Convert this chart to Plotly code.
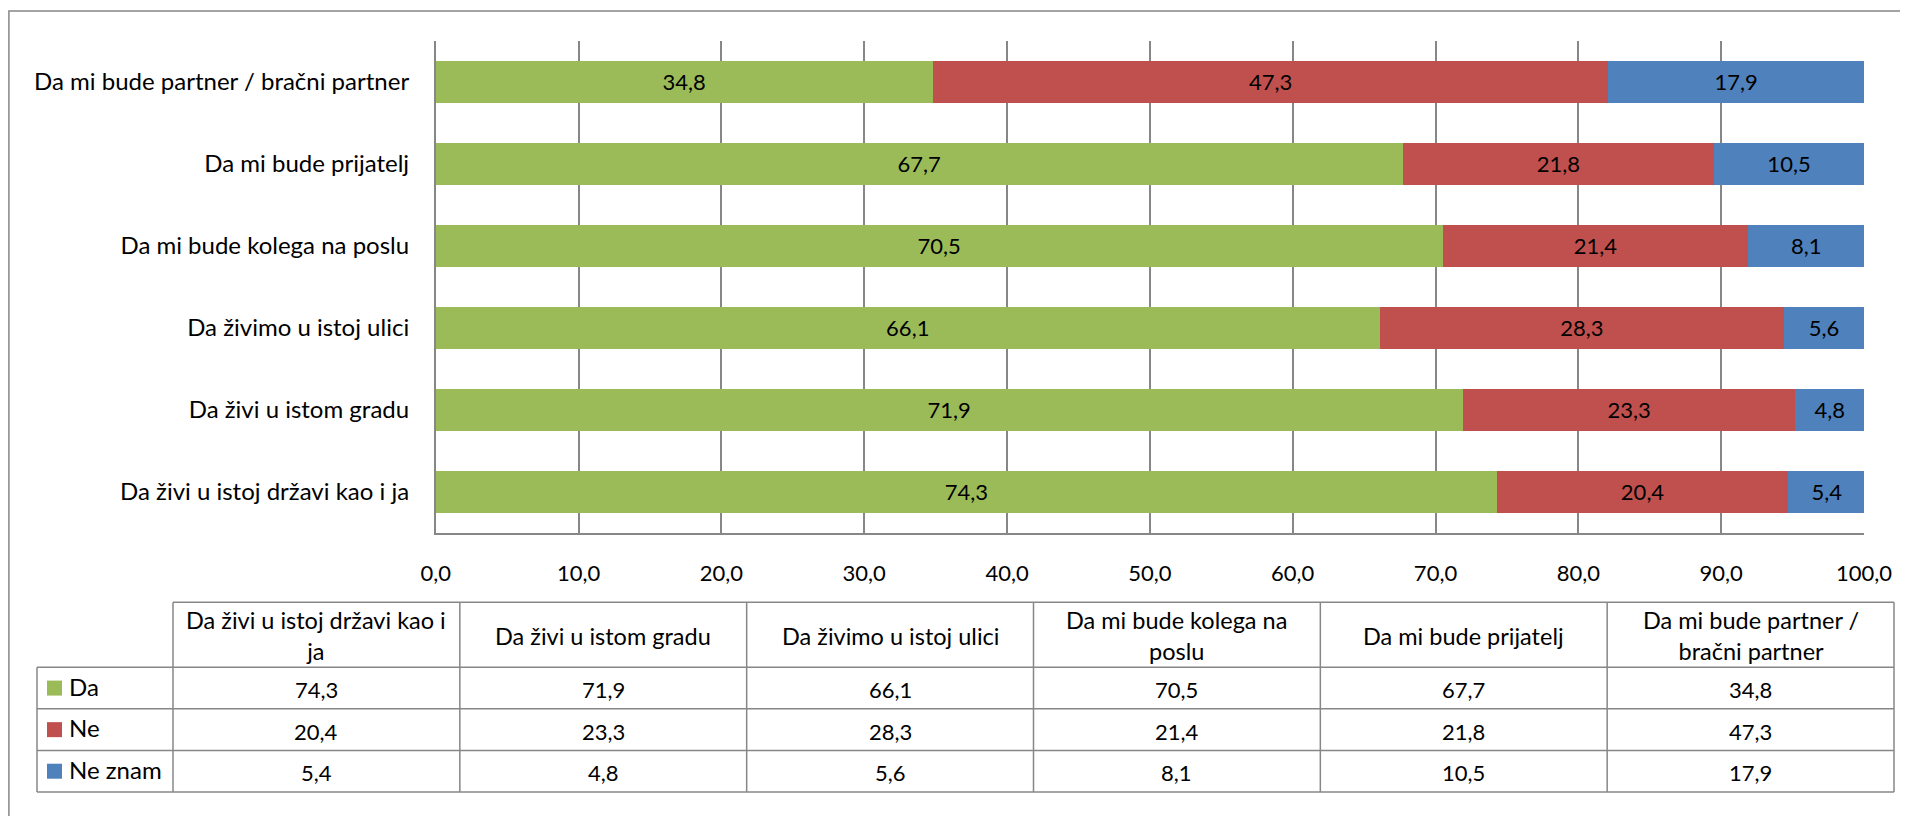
import plotly.graph_objects as go

# ---- data ----
categories = [
    "Da živi u istoj državi kao i ja",
    "Da živi u istom gradu",
    "Da živimo u istoj ulici",
    "Da mi bude kolega na poslu",
    "Da mi bude prijatelj",
    "Da mi bude partner / bračni partner",
]
table_headers = [
    "Da živi u istoj državi kao i<br>ja",
    "Da živi u istom gradu",
    "Da živimo u istoj ulici",
    "Da mi bude kolega na<br>poslu",
    "Da mi bude prijatelj",
    "Da mi bude partner /<br>bračni partner",
]
series_names = ["Da", "Ne", "Ne znam"]
da = [74.3, 71.9, 66.1, 70.5, 67.7, 34.8]
ne = [20.4, 23.3, 28.3, 21.4, 21.8, 47.3]
ne_znam = [5.4, 4.8, 5.6, 8.1, 10.5, 17.9]
colors = ["#9BBB59", "#C0504D", "#4F81BD"]

# page body has an 8px default margin; figure sized to fill the rest of the window
OFF = 8
W, H = 1908 - OFF, 816 - OFF
FONT = "Lato"
GRID = "#878787"
NUM_SIZE = 22
TXT_SIZE = 24

series_vals = [da, ne, ne_znam]

fig = go.Figure()
for name, vals, col in zip(series_names, series_vals, colors):
    fig.add_trace(go.Bar(
        y=categories, x=vals, name=name, orientation="h",
        marker=dict(color=col, line=dict(width=0)),
        texttemplate="%{x:.1f}", textposition="inside",
        insidetextanchor="middle", textangle=0, constraintext="none",
        textfont=dict(family=FONT, size=NUM_SIZE, color="#000000"),
        showlegend=False, hoverinfo="skip",
    ))

def fmt(v):
    return f"{v:.1f}".replace(".", ",")

def px(x):
    # window pixel -> paper fraction
    return (x - OFF) / W

def py(y):
    return 1 - (y - OFF) / H

# ---- data table under the chart (layout geometry, window pixels) ----
leg_l, col0 = 37, 173
tab_r = 1894
ncol = len(categories)
col_w = (tab_r - col0) / ncol
col_edges = [col0 + k * col_w for k in range(ncol + 1)]
head_top, head_bot = 602.3, 667.3
row_h = (792 - head_bot) / 3
row_edges = [head_bot + k * row_h for k in range(len(series_names) + 1)]

shapes = []
annotations = []
line = dict(color=GRID, width=1.5)
shapes.append(dict(type="line", xref="paper", yref="paper",
                   x0=px(col0), x1=px(tab_r), y0=py(head_top), y1=py(head_top), line=line))
for ye in row_edges:
    shapes.append(dict(type="line", xref="paper", yref="paper",
                       x0=px(leg_l), x1=px(tab_r), y0=py(ye), y1=py(ye), line=line))
shapes.append(dict(type="line", xref="paper", yref="paper",
                   x0=px(leg_l), x1=px(leg_l), y0=py(head_bot), y1=py(row_edges[-1]), line=line))
for xe in col_edges:
    shapes.append(dict(type="line", xref="paper", yref="paper",
                       x0=px(xe), x1=px(xe), y0=py(head_top), y1=py(row_edges[-1]), line=line))

for i, htxt in enumerate(table_headers):
    xc = (col_edges[i] + col_edges[i + 1]) / 2
    annotations.append(dict(xref="paper", yref="paper", x=px(xc), y=py((head_top + head_bot) / 2 + 1),
                            text=htxt, showarrow=False, xanchor="center", yanchor="middle",
                            font=dict(family=FONT, size=TXT_SIZE - 0.5, color="#000000")))
for r, (name, vals, col) in enumerate(zip(series_names, series_vals, colors)):
    yc = (row_edges[r] + row_edges[r + 1]) / 2
    shapes.append(dict(type="rect", xref="paper", yref="paper",
                       x0=px(47), x1=px(62), y0=py(yc - 7.5), y1=py(yc + 7.5),
                       fillcolor=col, line=dict(width=0)))
    annotations.append(dict(xref="paper", yref="paper", x=px(67), y=py(yc - 2),
                            text=name, showarrow=False, xanchor="left", yanchor="middle",
                            font=dict(family=FONT, size=TXT_SIZE, color="#000000")))
    for i, v in enumerate(vals):
        xc = (col_edges[i] + col_edges[i + 1]) / 2
        annotations.append(dict(xref="paper", yref="paper", x=px(xc), y=py(yc + 1.5),
                                text=fmt(v), showarrow=False, xanchor="center", yanchor="middle",
                                font=dict(family=FONT, size=NUM_SIZE, color="#000000")))

# outer chart border (right/bottom edges lie outside the view)
shapes.append(dict(type="rect", xref="paper", yref="paper",
                   x0=0.9 / W, y0=-0.05, x1=1.05, y1=py(11),
                   line=dict(color=GRID, width=1.5), fillcolor="rgba(0,0,0,0)"))

fig.update_layout(
    template="none",
    width=W, height=H, autosize=False,
    margin=dict(l=0, r=0, t=0, b=0, pad=0),
    paper_bgcolor="white", plot_bgcolor="white",
    barmode="stack", bargap=0.49,
    separators=", ",
    font=dict(family=FONT, size=TXT_SIZE, color="#000000"),
    xaxis=dict(
        domain=[px(435.7), px(1864)], range=[0, 100], dtick=10, tick0=0,
        tickformat=".1f", showgrid=True, gridcolor=GRID, gridwidth=1.5,
        zeroline=False, showline=True, linecolor=GRID, linewidth=1.5,
        ticks="outside", ticklen=20, tickcolor="rgba(0,0,0,0)",
        tickfont=dict(family=FONT, size=NUM_SIZE, color="#000000"),
        automargin=False, fixedrange=True,
    ),
    yaxis=dict(
        domain=[py(532.7), py(40.7)],
        showgrid=False, zeroline=False, showline=True, linecolor=GRID, linewidth=1.5,
        ticks="outside", ticklen=20, tickcolor="rgba(0,0,0,0)",
        tickfont=dict(family=FONT, size=TXT_SIZE, color="#000000"),
        automargin=False, fixedrange=True,
    ),
    shapes=shapes,
    annotations=annotations,
)

fig.write_html("out.html")
